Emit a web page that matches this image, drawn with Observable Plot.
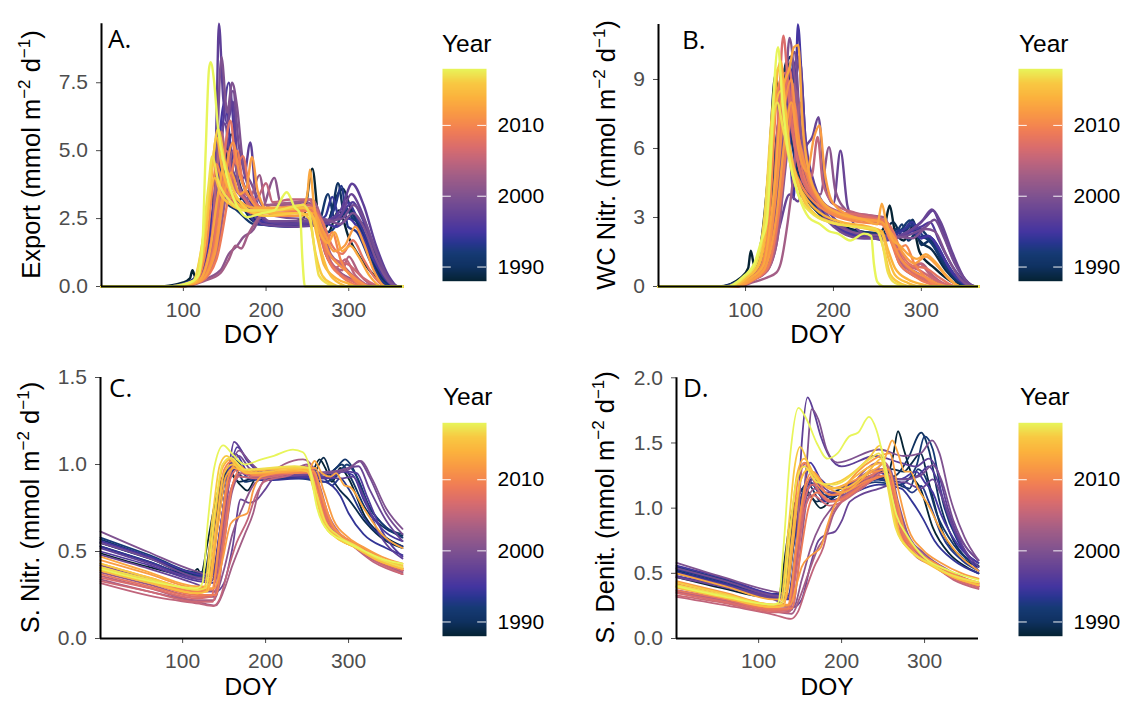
<!DOCTYPE html>
<html><head><meta charset="utf-8">
<script src="https://cdn.jsdelivr.net/npm/d3@7"></script>
<script src="https://cdn.jsdelivr.net/npm/@observablehq/plot@0.6"></script>
<style>
html,body{margin:0;padding:0;background:#fff;}
#root{position:relative;width:1125px;height:701px;overflow:hidden;background:#fff;}
</style></head><body><div id="root"></div>
<script>
const years = [1988,1989,1990,1991,1992,1993,1994,1995,1996,1997,1998,1999,2000,2001,2002,2003,2004,2005,2006,2007,2008,2009,2010,2011,2012,2013,2014,2015,2016,2017,2018];
const yearTicks = [1990, 2000, 2010];
const doyTicks = [100, 200, 300];
const exportTicks = [0, 2.5, 5, 7.5];
const wcNitrTicks = [0, 3, 6, 9];
const sNitrTicks = [0, 0.5, 1, 1.5];
const sDenitTicks = [0, 0.5, 1, 1.5, 2];
const panelLabels = ["A.", "B.", "C.", "D."];
const yTitles = ["Export", "WC Nitr.", "S. Nitr.", "S. Denit."];
const thermalStops = [0, 0.067, 0.133, 0.183, 0.233, 0.3, 0.4, 0.5, 0.567, 0.633, 0.7, 0.733, 0.8, 0.867, 0.933, 1];
const thermalColors = ["#052334","#0f3160","#163a75","#2a3591","#4435a0","#5e3f97","#7f5290","#a35e86","#c0657c","#db6d6c","#ee7b58","#f4864f","#f99c43","#fbb33d","#f8c942","#e8f55a"];

// knots per year: [doy, value, doy, value, ...]
const exportSeries = [
[1,0,70,0,100,0.15,108,0.3,111,0.6,115,0.3,124,1.5,133,3.5,140,2.6,152,3.9,162,3.0,178,3.5,190,2.5,215,2.3,245,2.5,256,4.34,264,2.4,275,2.0,288,2.8,300,1.8,320,0.8,340,0.15,352,0,365,0],
[1,0,75,0,105,0.15,125,0.5,140,2.5,150,4.4,158,5.6,166,4.0,175,3.2,190,2.4,220,2.25,250,2.3,262,2.7,272,2.2,285,3.3,293,3.6,302,2.9,315,2.2,330,1.0,345,0.2,358,0,365,0],
[1,0,80,0,110,0.2,130,1.0,142,3.2,150,4.5,158,3.4,170,3.0,185,2.4,220,2.3,255,2.4,268,2.1,280,2.8,287,3.8,295,2.6,310,2.4,325,1.2,340,0.3,352,0,365,0],
[1,0,80,0,108,0.2,125,0.9,137,3.0,145,3.8,152,3.1,165,2.8,185,2.3,220,2.25,250,2.4,262,2.2,275,3.4,283,2.5,300,2.8,315,2.0,330,0.9,345,0.2,356,0,365,0],
[1,0,85,0,112,0.2,135,1.0,150,3.5,160,4.8,168,3.6,180,2.9,195,2.3,230,2.2,260,2.3,275,2.0,288,2.4,296,2.9,305,2.5,318,2.3,332,1.2,346,0.3,358,0,365,0],
[1,0,80,0,110,0.2,128,1.2,142,3.8,155,5.2,162,3.8,175,3.1,192,2.4,230,2.3,262,2.5,275,2.4,284,3.0,291,3.7,299,2.2,310,2.0,325,1.0,340,0.2,352,0,365,0],
[1,0,85,0,112,0.2,132,1.0,145,3.2,152,4.0,160,3.3,172,3.0,190,2.3,230,2.2,262,2.4,272,2.6,280,3.3,289,2.5,298,3.1,312,2.4,328,1.3,345,0.3,358,0,365,0],
[1,0,80,0,110,0.2,125,0.8,138,3.5,150,6.8,158,5.0,168,4.2,180,3.2,195,2.4,230,2.3,265,2.4,285,2.2,300,2.5,312,2.1,328,1.1,345,0.25,356,0,365,0],
[1,0,85,0,112,0.2,130,1.0,142,4.0,155,7.5,163,5.2,172,3.8,185,3.0,200,2.4,235,2.3,268,2.4,288,2.6,305,3.1,315,2.6,330,1.5,346,0.4,360,0,365,0],
[1,0,80,0,112,0.2,128,0.4,136,1.5,140,6.0,143,9.67,148,7.0,153,6.0,160,6.8,166,4.4,173,4.0,181,5.3,188,3.2,200,2.4,230,2.3,270,2.4,290,2.8,304,3.78,318,3.0,332,1.6,348,0.4,360,0,365,0],
[1,0,85,0,115,0.2,132,1.2,143,4.5,150,6.0,157,4.6,166,3.8,180,3.0,195,2.3,235,2.2,270,2.3,290,2.6,303,3.4,315,2.8,330,1.5,347,0.3,358,0,365,0],
[1,0,85,0,115,0.2,135,1.2,150,4.8,160,7.2,167,5.2,175,4.0,188,3.0,205,2.4,240,2.4,270,2.4,292,2.5,306,3.0,318,2.5,333,1.3,348,0.3,360,0,365,0],
[1,0,85,0,115,0.2,132,1.0,140,4.5,146,8.45,153,6.4,159,7.5,165,6.6,172,4.6,182,3.8,195,3.0,210,2.6,240,2.5,268,2.5,290,2.3,305,2.7,318,2.2,333,1.0,348,0.2,360,0,365,0],
[1,0,90,0,120,0.2,145,0.6,155,1.2,165,1.5,172,1.8,185,2.1,198,3.0,210,4.0,218,3.0,235,2.8,255,2.8,265,2.0,275,1.0,290,0.5,310,0.2,330,0,365,0],
[1,0,90,0,118,0.2,140,1.2,152,3.5,160,5.0,168,3.6,180,3.2,192,4.1,200,3.0,220,3.0,250,3.1,262,2.6,272,1.2,290,0.5,305,0.2,322,0,365,0],
[1,0,95,0,125,0.2,145,0.5,155,1.0,163,1.5,170,1.4,178,1.9,188,2.4,205,3.0,235,3.1,255,3.2,268,2.4,278,1.2,292,0.8,305,0.4,330,0,365,0],
[1,0,90,0,118,0.2,132,1.2,140,4.0,146,5.7,153,4.2,162,3.6,175,3.2,190,2.8,220,2.9,255,3.0,266,2.2,278,0.9,292,0.6,300,1.1,312,0.5,335,0,365,0],
[1,0,90,0,120,0.2,138,1.0,148,3.5,155,4.5,162,3.6,175,3.4,188,3.2,200,3.8,208,3.1,230,3.2,252,3.2,262,2.6,272,1.4,285,0.7,296,1.0,308,0.4,330,0,365,0],
[1,0,90,0,118,0.2,135,1.3,145,3.8,152,5.0,160,3.8,172,3.3,185,2.8,215,2.9,250,3.0,262,2.8,270,1.6,282,1.0,300,0.8,318,0.3,340,0,365,0],
[1,0,90,0,118,0.2,132,1.4,142,3.3,148,4.0,156,3.2,168,3.0,185,2.7,220,2.7,252,2.8,262,2.2,272,1.2,288,0.5,305,0.2,330,0,365,0],
[1,0,90,0,118,0.2,135,1.2,148,4.5,157,6.1,164,4.5,172,4.8,180,3.6,195,2.9,225,2.8,255,2.8,268,2.4,280,1.5,292,1.2,305,1.7,318,1.0,332,0.3,345,0,365,0],
[1,0,95,0,122,0.2,140,1.0,155,3.4,165,5.0,172,3.8,182,3.2,196,2.8,225,2.7,255,2.8,265,2.2,275,1.0,290,0.4,305,0.1,320,0,365,0],
[1,0,90,0,115,0.2,128,1.5,136,3.8,140,4.5,148,3.7,160,3.2,175,2.8,200,2.6,240,2.6,258,2.7,265,2.0,272,1.6,280,2.0,290,1.0,305,0.3,320,0,365,0],
[1,0,92,0,120,0.2,138,1.4,150,4.0,160,5.3,168,4.1,178,3.4,190,2.9,225,2.8,255,2.9,265,2.3,275,1.3,288,0.8,300,0.5,312,0.2,325,0,365,0],
[1,0,92,0,120,0.2,138,1.2,150,3.5,158,4.2,168,3.4,176,3.6,183,4.76,190,3.5,205,2.7,235,2.6,258,2.7,270,2.0,282,1.3,295,1.5,308,2.2,318,1.6,330,0.6,345,0,365,0],
[1,0,90,0,118,0.2,132,1.3,143,3.6,150,4.5,158,3.5,170,3.1,185,2.9,220,2.9,245,3.0,250,3.4,253,4.3,258,3.0,265,2.0,275,1.6,283,2.0,292,1.3,302,1.5,312,1.1,325,0.4,340,0,365,0],
[1,0,88,0,115,0.2,126,1.6,134,4.0,140,5.5,147,4.3,158,3.4,172,2.9,200,2.7,240,2.7,255,2.6,262,1.8,270,0.8,285,0.3,300,0.1,310,0,365,0],
[1,0,88,0,115,0.2,125,1.5,132,3.4,138,4.0,145,3.4,158,3.0,175,2.8,210,2.8,245,2.9,258,2.5,266,1.4,276,0.5,290,0.1,300,0,365,0],
[1,0,85,0,112,0.2,124,1.8,135,4.5,142,5.8,150,4.6,160,3.6,175,2.9,200,2.6,240,2.7,252,2.5,260,1.2,268,0.4,280,0.1,290,0,365,0],
[1,0,85,0,112,0.2,122,1.4,130,3.6,135,4.8,142,3.9,155,3.2,175,2.8,210,2.8,245,3.0,253,2.6,258,1.5,264,0.4,275,0.1,290,0,365,0],
[1,0,80,0,108,0.15,118,0.4,123,1.5,127,5.0,131,8.0,133,8.26,137,7.6,142,5.8,150,4.4,160,3.3,168,2.8,177,2.55,195,2.7,210,2.8,225,3.47,235,2.9,241,2.7,244,1.0,247,0,365,0]
];

const wcNitrSeries = [
[1,0,70,0,95,0.4,103,0.8,106,1.56,110,0.9,118,2.0,126,5.0,134,9.2,140,7.0,148,8.8,155,6.5,165,4.2,180,3.3,200,2.8,230,2.4,250,2.3,258,2.6,264,3.52,270,2.4,280,2.0,290,2.6,298,1.5,315,0.8,335,0.2,350,0,365,0],
[1,0,72,0,98,0.4,110,0.8,120,1.8,130,4.5,140,8.0,147,9.8,153,8.0,160,5.0,172,3.8,190,3.0,220,2.4,255,2.3,268,2.8,278,2.2,288,2.8,298,2.0,312,1.6,328,0.7,345,0.1,358,0,365,0],
[1,0,72,0,98,0.4,112,0.9,122,2.0,135,6.0,145,9.5,152,10.0,158,7.0,165,4.5,178,3.5,200,2.7,230,2.3,260,2.2,272,2.5,282,2.4,290,2.9,300,1.8,310,2.0,325,1.0,342,0.2,355,0,365,0],
[1,0,75,0,100,0.4,112,0.8,125,2.2,137,7.0,146,8.6,152,6.5,160,4.8,175,3.6,195,2.8,225,2.4,255,2.3,268,2.1,278,2.7,285,2.0,298,2.5,310,2.0,325,1.0,342,0.2,355,0,365,0],
[1,0,75,0,100,0.4,115,0.8,128,2.2,140,6.5,150,8.8,158,7.5,165,5.0,178,3.6,198,2.8,230,2.3,260,2.3,275,2.4,287,2.87,295,2.2,305,2.1,315,1.7,330,0.8,346,0.15,358,0,365,0],
[1,0,75,0,100,0.35,115,0.8,130,2.5,142,7.5,150,9.5,157,8.0,164,5.2,178,3.7,200,2.7,230,2.2,260,2.2,272,2.4,282,2.5,292,2.7,302,2.2,312,2.1,326,1.2,342,0.3,356,0,365,0],
[1,0,75,0,100,0.4,115,0.8,128,2.3,140,7.0,148,8.0,155,9.6,162,6.0,170,4.2,185,3.4,205,2.6,235,2.2,262,2.2,278,2.4,290,2.8,300,2.1,308,2.2,320,1.6,335,0.6,350,0.1,360,0,365,0],
[1,0,78,0,102,0.4,118,0.9,132,3.0,142,7.0,148,7.5,152,5.0,155,3.8,157,7.5,159.5,11.39,164,9.0,170,5.5,180,4.0,195,3.0,220,2.3,250,2.1,265,2.2,278,2.2,290,2.4,300,2.1,308,2.2,318,1.8,332,0.8,348,0.15,360,0,365,0],
[1,0,78,0,102,0.4,118,0.8,132,2.5,142,6.0,152,9.0,160,10.0,166,7.0,172,4.8,185,3.6,205,2.5,235,2.1,265,2.1,285,2.4,300,2.6,310,2.8,320,2.0,335,0.9,350,0.2,362,0,365,0],
[1,0,80,0,105,0.35,120,0.8,135,2.5,145,6.5,155,8.5,162,9.8,168,6.5,178,4.5,190,3.5,205,2.8,235,2.2,268,2.1,290,2.5,305,3.0,313,3.3,322,2.6,335,1.3,350,0.3,362,0,365,0],
[1,0,80,0,105,0.35,122,0.8,138,2.5,150,4.0,160,3.7,168,6.0,176,6.5,183,7.36,190,4.5,200,3.6,208,5.9,216,3.5,230,2.4,260,2.0,285,2.4,300,2.8,312,3.35,322,2.8,335,1.5,350,0.3,362,0,365,0],
[1,0,80,0,105,0.35,120,0.8,133,2.5,143,7.0,150,9.5,156,10.2,162,7.0,170,4.6,182,3.5,200,2.6,230,2.1,265,2.1,290,2.3,305,2.6,315,2.9,325,2.2,338,1.0,352,0.2,362,0,365,0],
[1,0,82,0,105,0.3,120,0.7,135,2.8,145,8.0,150,10.8,156,9.0,163,6.0,172,4.5,185,3.6,200,2.8,230,2.3,265,2.2,290,2.1,305,2.5,315,2.4,328,1.4,345,0.3,360,0,365,0],
[1,0,85,0,108,0.3,122,0.6,135,1.8,145,5.0,152,7.5,158,8.5,164,6.5,172,5.0,185,4.0,195,6.06,202,4.2,215,3.3,240,2.8,258,2.7,268,2.0,280,1.0,295,0.6,310,0.3,330,0,365,0],
[1,0,85,0,108,0.3,125,0.7,138,2.5,148,7.0,155,8.8,162,6.2,172,4.6,185,3.8,205,3.2,235,3.0,255,2.9,265,2.2,275,1.0,290,0.5,310,0.2,330,0,365,0],
[1,0,90,0,110,0.2,125,0.4,135,0.6,140,1.0,148,2.8,155,5.0,162,8.0,168,6.0,175,4.5,188,3.6,210,3.2,240,3.1,258,3.0,268,2.0,278,1.0,292,0.6,305,0.3,330,0,365,0],
[1,0,85,0,108,0.3,122,0.8,132,3.0,140,7.0,147,9.0,154,7.5,162,5.0,172,4.2,185,3.7,210,3.2,240,3.0,258,2.9,268,2.2,278,1.2,290,0.8,300,1.0,312,0.5,335,0,365,0],
[1,0,88,0,110,0.3,125,0.7,135,2.2,145,6.5,152,8.2,160,6.5,168,5.5,175,4.8,182,6.5,188,4.5,200,3.6,225,3.2,250,3.0,262,2.6,272,1.5,285,0.8,298,1.0,310,0.5,335,0,365,0],
[1,0,85,0,108,0.3,120,0.8,130,2.8,138,7.5,145,9.3,152,7.0,160,5.3,170,4.3,185,3.6,210,3.1,245,3.0,260,2.8,270,1.8,282,1.0,298,0.7,315,0.3,340,0,365,0],
[1,0,85,0,108,0.3,122,0.8,132,3.5,138,8.0,143,10.9,148,9.0,155,6.5,165,4.6,180,3.8,200,3.3,230,3.1,255,2.8,265,2.2,275,1.3,290,0.6,305,0.3,330,0,365,0],
[1,0,85,0,108,0.3,122,0.9,132,3.5,142,7.5,150,9.5,156,7.0,165,5.0,178,3.9,195,3.3,225,3.0,255,2.9,268,2.4,278,1.4,290,0.9,305,0.8,320,0.4,340,0,365,0],
[1,0,88,0,110,0.3,125,0.8,138,3.2,148,6.5,155,8.0,162,6.0,172,4.5,185,3.7,200,3.2,230,2.9,255,2.8,265,2.0,275,1.0,290,0.5,310,0.1,325,0,365,0],
[1,0,85,0,105,0.35,118,0.9,128,3.5,135,8.0,140,9.0,146,7.0,155,5.2,165,4.3,180,3.6,200,3.1,230,2.8,255,2.7,265,2.0,272,1.6,282,1.8,292,1.0,305,0.4,320,0,365,0],
[1,0,85,0,108,0.3,122,0.8,134,3.8,145,8.0,152,9.0,158,7.0,168,5.2,180,4.0,200,3.2,230,2.9,255,2.8,265,2.1,275,1.3,290,0.7,305,0.4,320,0.1,335,0,365,0],
[1,0,85,0,108,0.3,122,0.8,135,3.0,145,6.5,152,8.0,160,6.0,170,5.0,178,6.5,184,7.0,190,5.0,200,3.6,225,3.0,255,2.8,268,2.2,280,1.4,292,1.0,305,1.3,318,0.9,332,0.3,345,0,365,0],
[1,0,85,0,105,0.35,120,0.9,132,4.0,142,8.5,150,9.5,155,10.4,160,10.5,165,7.0,172,5.0,185,3.8,205,3.2,235,2.9,250,2.7,255,3.6,260,2.8,268,2.0,275,1.8,285,1.4,295,1.2,305,1.4,315,1.1,328,0.5,345,0,365,0],
[1,0,82,0,102,0.4,115,0.9,125,3.0,133,8.0,140,9.8,147,7.0,155,5.0,168,3.9,185,3.2,210,2.8,240,2.6,255,2.4,262,1.6,270,0.8,285,0.3,300,0.1,315,0,365,0],
[1,0,82,0,102,0.4,115,1.0,125,3.5,133,7.5,140,8.5,147,6.5,155,5.0,168,3.6,185,3.0,210,2.7,240,2.5,255,2.3,262,1.3,270,0.5,285,0.15,300,0,365,0],
[1,0,80,0,100,0.45,112,1.0,122,3.2,130,7.5,137,9.5,142,8.8,150,6.0,160,4.5,175,3.3,195,2.8,225,2.6,250,2.4,258,1.5,265,0.5,278,0.1,290,0,365,0],
[1,0,80,0,100,0.45,112,1.0,122,3.0,130,7.0,136,8.0,142,7.0,150,5.5,160,4.0,175,3.2,195,2.8,225,2.6,248,2.5,256,1.8,262,0.6,270,0.15,285,0,365,0],
[1,0,78,0,98,0.45,110,1.0,118,2.0,124,2.8,128,5.0,133,9.0,137,10.4,142,8.0,150,5.5,160,4.0,172,3.0,185,2.7,195,2.4,205,2.3,219,2.0,235,2.3,243,2.2,246,1.0,250,0.2,258,0,365,0]
];

const sNitrSeries = [
[1,0.49,60,0.41,110,0.36,118,0.40,122,0.37,130,0.55,140,0.80,155,0.95,170,0.88,178,0.85,190,0.93,230,0.93,255,0.95,265,1.03,272,0.98,280,0.90,290,0.98,300,0.92,320,0.70,345,0.58,365,0.53],
[1,0.53,60,0.44,115,0.36,125,0.36,135,0.60,145,0.88,155,0.97,168,0.90,185,0.92,230,0.93,258,0.95,270,1.04,280,0.92,290,0.85,300,0.80,320,0.67,345,0.56,365,0.52],
[1,0.55,60,0.46,118,0.37,128,0.38,138,0.65,148,0.92,160,1.0,172,0.93,190,0.92,235,0.94,265,0.94,280,0.96,292,1.0,302,0.93,320,0.75,345,0.63,365,0.59],
[1,0.57,60,0.47,118,0.37,130,0.40,140,0.70,150,0.93,162,0.98,175,0.90,195,0.92,240,0.93,268,0.92,285,0.98,296,1.03,305,0.98,322,0.78,345,0.64,365,0.60],
[1,0.58,60,0.48,118,0.38,133,0.40,143,0.68,153,0.95,165,1.02,178,0.94,200,0.92,240,0.92,270,0.90,285,0.93,298,1.0,310,0.93,325,0.76,345,0.64,365,0.58],
[1,0.55,60,0.46,118,0.36,132,0.37,142,0.65,152,0.93,162,1.0,175,0.95,195,0.92,240,0.93,268,0.93,280,0.88,290,0.92,300,0.86,318,0.70,345,0.57,365,0.53],
[1,0.53,60,0.44,118,0.35,135,0.36,145,0.62,155,0.92,166,0.98,180,0.92,200,0.91,245,0.92,272,0.90,290,0.82,300,0.72,318,0.60,345,0.52,365,0.48],
[1,0.56,60,0.47,118,0.37,136,0.36,146,0.65,155,0.95,164,1.06,178,0.96,200,0.93,245,0.93,270,0.92,290,0.96,305,0.94,318,0.80,335,0.66,365,0.56],
[1,0.50,60,0.42,118,0.33,138,0.32,148,0.62,158,0.98,166,1.10,178,1.02,195,0.95,245,0.93,275,0.92,295,0.96,310,0.95,322,0.82,340,0.62,365,0.47],
[1,0.52,60,0.43,118,0.34,135,0.33,145,0.62,155,0.95,162,1.13,175,1.05,190,0.97,240,0.95,270,0.93,290,0.92,305,0.93,318,0.82,335,0.62,365,0.46],
[1,0.48,60,0.40,118,0.31,140,0.27,150,0.32,160,0.52,170,0.80,180,0.78,190,0.80,200,0.86,210,0.92,245,0.94,275,0.95,300,0.98,312,0.99,325,0.86,345,0.68,365,0.56],
[1,0.55,60,0.46,118,0.35,138,0.34,148,0.62,158,0.95,168,1.05,180,0.98,200,0.94,245,0.94,280,0.95,300,0.97,313,1.02,325,0.93,345,0.72,365,0.60],
[1,0.615,57,0.50,117,0.385,138,0.36,148,0.60,158,0.95,168,1.08,180,1.02,200,0.95,245,0.95,280,0.96,300,0.98,315,1.02,328,0.92,345,0.75,365,0.63],
[1,0.42,60,0.34,118,0.27,140,0.27,150,0.40,160,0.60,172,0.75,185,0.88,200,0.93,245,0.97,258,0.93,268,0.78,280,0.65,300,0.56,330,0.46,365,0.39],
[1,0.38,60,0.31,118,0.24,140,0.24,150,0.55,160,0.85,172,0.95,190,0.93,230,0.96,250,1.0,260,0.92,272,0.72,285,0.62,300,0.56,330,0.46,365,0.39],
[1,0.34,60,0.27,118,0.21,140,0.19,150,0.28,160,0.42,175,0.60,185,0.72,192,0.85,200,0.92,245,1.03,258,0.98,268,0.75,285,0.60,300,0.55,330,0.45,365,0.38],
[1,0.36,60,0.29,118,0.22,138,0.22,148,0.50,158,0.85,170,0.95,190,0.93,235,0.96,255,0.98,265,0.88,275,0.72,290,0.60,310,0.53,335,0.45,365,0.39],
[1,0.318,73,0.233,120,0.20,137,0.186,145,0.23,155,0.40,165,0.55,178,0.68,188,0.82,198,0.90,230,0.94,252,0.99,262,0.92,272,0.68,285,0.60,300,0.55,330,0.44,365,0.37],
[1,0.33,60,0.27,118,0.21,136,0.21,146,0.48,156,0.82,168,0.93,190,0.92,235,0.95,255,0.96,265,0.85,275,0.66,290,0.57,310,0.52,335,0.44,365,0.37],
[1,0.35,60,0.29,118,0.23,135,0.24,145,0.55,155,0.88,166,0.97,185,0.93,235,0.95,255,0.95,265,0.82,275,0.65,290,0.58,310,0.53,335,0.45,365,0.39],
[1,0.37,60,0.30,118,0.24,135,0.25,145,0.58,155,0.92,165,1.0,185,0.94,235,0.96,255,0.97,265,0.86,275,0.68,290,0.60,310,0.54,335,0.46,365,0.40],
[1,0.39,60,0.32,118,0.25,140,0.25,150,0.55,160,0.88,170,0.97,190,0.94,240,0.96,258,0.95,268,0.80,280,0.65,295,0.58,315,0.52,340,0.45,365,0.40],
[1,0.40,60,0.33,118,0.27,130,0.28,140,0.62,150,0.97,160,1.02,175,0.95,235,0.95,252,0.96,262,0.85,272,0.68,290,0.58,310,0.52,335,0.45,365,0.40],
[1,0.43,60,0.35,118,0.28,135,0.28,145,0.60,155,0.93,165,1.0,185,0.94,240,0.97,258,0.96,268,0.82,280,0.66,295,0.58,315,0.53,340,0.46,365,0.41],
[1,0.45,60,0.37,118,0.29,138,0.29,148,0.45,158,0.66,168,0.70,178,0.72,185,0.85,195,0.93,240,0.97,260,0.98,270,0.85,282,0.68,300,0.58,320,0.52,345,0.46,365,0.43],
[1,0.47,60,0.38,118,0.30,132,0.30,142,0.62,152,0.93,162,0.98,180,0.95,235,0.96,252,0.97,259,1.02,268,0.95,278,0.93,285,0.95,295,0.88,302,0.87,318,0.75,340,0.60,365,0.52],
[1,0.41,60,0.33,118,0.26,128,0.27,138,0.65,148,0.98,158,1.03,175,0.96,235,0.98,252,0.97,262,0.82,272,0.66,288,0.58,310,0.52,335,0.45,365,0.40],
[1,0.39,60,0.32,118,0.26,130,0.27,140,0.62,150,0.95,160,1.0,178,0.95,235,0.97,250,0.96,260,0.82,270,0.66,285,0.58,305,0.53,335,0.45,365,0.40],
[1,0.43,60,0.35,118,0.28,126,0.29,136,0.70,145,1.0,153,1.05,170,0.97,230,0.98,250,0.98,260,0.83,270,0.66,285,0.58,305,0.53,335,0.46,365,0.42],
[1,0.41,60,0.34,118,0.28,128,0.29,138,0.70,148,1.0,158,1.04,175,0.97,235,0.99,252,0.98,262,0.82,272,0.67,288,0.59,310,0.53,335,0.46,365,0.41],
[1,0.40,60,0.33,118,0.29,124,0.32,130,0.65,138,0.98,149,1.11,160,1.06,175,1.0,195,1.03,210,1.05,233,1.085,245,1.07,252,1.0,262,0.75,275,0.62,295,0.56,320,0.50,345,0.45,365,0.43]
];

const sDenitSeries = [
[1,0.47,60,0.38,110,0.32,118,0.34,124,0.32,130,0.55,138,0.90,145,1.05,160,1.10,175,1.0,190,1.08,230,1.22,255,1.25,262,1.40,268,1.59,275,1.45,285,1.25,295,1.15,310,0.85,330,0.65,350,0.55,365,0.50],
[1,0.50,60,0.41,115,0.32,125,0.32,135,0.70,145,1.05,155,1.15,170,1.05,190,1.12,235,1.25,260,1.30,275,1.28,285,1.35,295,1.42,305,1.20,320,0.85,345,0.62,365,0.55],
[1,0.52,60,0.42,118,0.33,128,0.34,138,0.75,148,1.10,160,1.18,175,1.05,195,1.10,240,1.22,265,1.25,280,1.38,296,1.58,305,1.45,318,1.05,335,0.75,350,0.62,365,0.56],
[1,0.54,60,0.44,118,0.34,130,0.35,140,0.78,150,1.12,162,1.20,178,1.08,200,1.12,240,1.22,268,1.18,282,1.15,292,1.30,300,1.25,315,0.95,335,0.72,365,0.55],
[1,0.55,60,0.45,118,0.34,133,0.35,143,0.75,153,1.12,165,1.22,180,1.10,200,1.10,240,1.20,270,1.18,290,1.32,300,1.55,310,1.45,322,1.05,340,0.75,365,0.58],
[1,0.53,60,0.43,118,0.33,132,0.33,142,0.72,152,1.10,162,1.20,178,1.08,200,1.12,245,1.22,270,1.20,285,1.12,296,1.17,305,1.05,320,0.80,345,0.60,365,0.52],
[1,0.51,60,0.42,118,0.32,135,0.32,145,0.70,155,1.08,166,1.18,180,1.05,200,1.08,245,1.18,272,1.15,285,1.05,298,0.92,312,0.75,335,0.60,365,0.50],
[1,0.56,60,0.46,118,0.34,136,0.33,146,0.72,155,1.15,162,1.35,175,1.22,195,1.15,240,1.28,270,1.22,290,1.28,300,1.20,310,1.12,320,0.95,340,0.72,365,0.58],
[1,0.48,60,0.40,118,0.31,138,0.30,148,0.72,156,1.10,165,1.25,180,1.12,200,1.12,245,1.25,272,1.22,292,1.25,305,1.32,315,1.22,328,0.95,345,0.70,365,0.52],
[1,0.50,60,0.41,118,0.32,138,0.31,146,0.80,152,1.50,159,1.85,166,1.75,175,1.55,185,1.40,200,1.32,240,1.40,270,1.35,290,1.32,305,1.38,315,1.30,328,1.00,345,0.72,365,0.55],
[1,0.47,60,0.39,118,0.30,142,0.24,152,0.30,162,0.55,172,0.75,182,0.80,192,0.82,200,0.90,210,1.05,245,1.15,275,1.20,295,1.15,310,1.22,320,1.10,335,0.85,350,0.70,365,0.60],
[1,0.54,60,0.44,118,0.33,138,0.32,148,0.72,158,1.10,168,1.25,180,1.15,200,1.10,245,1.25,275,1.22,295,1.25,310,1.33,320,1.22,335,0.90,350,0.70,365,0.60],
[1,0.58,57,0.47,118,0.36,138,0.34,150,0.80,158,1.35,164,1.76,172,1.68,182,1.45,195,1.35,245,1.45,275,1.40,295,1.42,309,1.52,318,1.42,330,1.10,348,0.78,365,0.60],
[1,0.40,60,0.32,118,0.25,142,0.24,152,0.45,163,0.70,175,0.88,188,1.0,200,1.10,245,1.30,258,1.30,268,1.05,280,0.80,300,0.65,330,0.52,365,0.42],
[1,0.37,60,0.30,118,0.23,140,0.22,150,0.65,158,1.05,168,1.15,185,1.05,200,1.08,240,1.25,250,1.30,260,1.20,272,0.85,288,0.68,310,0.58,335,0.48,365,0.40],
[1,0.35,60,0.28,118,0.21,140,0.19,150,0.32,160,0.50,172,0.70,182,0.80,190,0.95,200,1.05,245,1.35,255,1.32,265,1.10,278,0.80,295,0.66,320,0.55,345,0.46,365,0.40],
[1,0.36,60,0.29,118,0.22,138,0.21,146,0.70,152,1.30,158,1.35,168,1.18,185,1.05,230,1.22,250,1.30,262,1.10,275,0.82,292,0.66,315,0.56,340,0.47,365,0.40],
[1,0.32,73,0.24,120,0.18,139,0.15,147,0.20,157,0.38,167,0.55,178,0.70,188,0.95,200,1.05,230,1.18,252,1.35,262,1.20,272,0.80,288,0.64,310,0.56,335,0.45,365,0.38],
[1,0.33,60,0.27,118,0.20,136,0.20,146,0.55,155,0.98,165,1.10,185,1.02,230,1.18,252,1.28,262,1.15,272,0.82,288,0.65,310,0.56,335,0.46,365,0.39],
[1,0.35,60,0.28,118,0.21,135,0.22,145,0.62,155,1.05,165,1.18,185,1.05,232,1.20,252,1.25,262,1.10,272,0.80,288,0.65,310,0.56,335,0.46,365,0.40],
[1,0.37,60,0.30,118,0.22,135,0.23,145,0.65,155,1.10,165,1.25,185,1.10,235,1.25,252,1.30,262,1.12,272,0.82,288,0.66,310,0.57,335,0.47,365,0.41],
[1,0.39,60,0.31,118,0.23,140,0.23,150,0.62,160,1.0,170,1.12,190,1.05,238,1.22,255,1.25,265,1.05,275,0.80,292,0.66,315,0.56,340,0.47,365,0.42],
[1,0.40,60,0.32,118,0.24,130,0.25,140,0.75,148,1.25,155,1.35,168,1.20,190,1.10,235,1.22,250,1.25,260,1.08,270,0.80,288,0.65,310,0.56,335,0.47,365,0.42],
[1,0.42,60,0.33,118,0.25,135,0.25,145,0.70,155,1.15,165,1.28,185,1.15,240,1.28,256,1.30,266,1.08,276,0.82,292,0.67,315,0.57,340,0.48,365,0.43],
[1,0.44,60,0.35,118,0.26,138,0.26,146,0.42,152,0.55,160,0.62,168,0.66,175,0.70,182,0.85,190,1.0,200,1.12,240,1.38,258,1.42,268,1.15,280,0.85,298,0.68,320,0.58,345,0.50,365,0.46],
[1,0.50,60,0.40,118,0.30,132,0.30,142,0.75,150,1.20,160,1.30,178,1.18,200,1.12,235,1.28,250,1.35,256,1.45,261,1.52,268,1.42,276,1.28,283,1.28,292,1.15,304,1.03,318,0.85,340,0.65,365,0.52],
[1,0.41,60,0.32,118,0.24,128,0.25,138,0.80,146,1.25,155,1.38,170,1.22,190,1.15,235,1.32,250,1.35,260,1.10,270,0.80,288,0.65,310,0.56,335,0.47,365,0.41],
[1,0.39,60,0.31,118,0.24,130,0.25,140,0.75,150,1.20,160,1.30,178,1.18,200,1.15,235,1.30,248,1.38,258,1.15,268,0.82,285,0.66,305,0.57,335,0.47,365,0.41],
[1,0.43,60,0.34,118,0.26,126,0.27,136,0.85,143,1.30,150,1.47,162,1.30,180,1.18,195,1.20,235,1.40,246,1.48,256,1.20,266,0.85,282,0.68,305,0.58,335,0.48,365,0.43],
[1,0.41,60,0.33,118,0.26,128,0.27,138,0.85,146,1.22,155,1.32,170,1.20,190,1.18,235,1.38,245,1.42,255,1.18,265,0.85,282,0.68,305,0.58,335,0.48,365,0.43],
[1,0.40,60,0.32,118,0.26,124,0.28,130,0.70,138,1.40,148,1.77,158,1.68,170,1.50,183,1.38,195,1.42,209,1.55,220,1.58,233,1.70,242,1.60,250,1.40,257,1.19,266,0.95,279,0.79,300,0.62,330,0.52,365,0.45]
];

const FONT = "'Liberation Sans', Arial, Helvetica, sans-serif";
const root = document.getElementById("root");
const thermal = d3.scaleLinear().domain(thermalStops).range(thermalColors).interpolate(d3.interpolateRgb).clamp(true);
const colorScale = () => ({type: "linear", domain: [1988, 2018], range: [0, 1], interpolate: (a, b) => (t) => thermal(a + (b - a) * t)});

function toRows(series) {
  const rows = [];
  series.forEach((k, i) => { for (let j = 0; j < k.length; j += 2) rows.push({year: years[i], doy: k[j], v: k[j + 1]}); });
  return rows;
}

function place(el, left, top) {
  el.style.position = "absolute"; el.style.left = left + "px"; el.style.top = top + "px";
  root.appendChild(el);
}

function panel(p) {
  const chart = Plot.plot({
    width: p.w, height: p.h,
    marginLeft: p.ml, marginRight: p.mr, marginTop: p.mt, marginBottom: p.mb,
    style: {fontFamily: FONT, fontSize: "21px", color: "#4d4d4d", background: "transparent", overflow: "visible"},
    x: {domain: [1, 365], ticks: doyTicks, tickSize: 5, tickPadding: p.xpad, label: null},
    y: {domain: [0, p.yMax], ticks: p.ticks, tickFormat: p.fmt, tickSize: 5, tickPadding: 8.5, label: null},
    color: colorScale(),
    marks: [
      Plot.line(toRows(p.series), {x: "doy", y: "v", z: "year", stroke: "year", strokeWidth: p.sw, curve: "monotone-x"}),
      Plot.ruleX([1], {stroke: "#000", strokeWidth: 2}),
      Plot.ruleY([0], {stroke: "#000", strokeWidth: 2})
    ]
  });
  place(chart, p.left, p.top);
}

function legend(l) {
  const marks = [];
  if (Plot.raster) {
    marks.push(Plot.raster({x1: 0, x2: 1, y1: 1988, y2: 2018, width: 1, height: 300, fill: (x, y) => y, imageRendering: "auto"}));
  } else {
    marks.push(Plot.rect(years, {x1: 0, x2: 1, y1: (d) => d - 0.5, y2: (d) => d + 0.5, fill: (d) => d, clip: true}));
  }
  marks.push(Plot.ruleY(yearTicks, {x1: 0, x2: 0.2, stroke: "#fff", strokeOpacity: 0.85, strokeWidth: 1.1}));
  marks.push(Plot.ruleY(yearTicks, {x1: 0.8, x2: 1, stroke: "#fff", strokeOpacity: 0.85, strokeWidth: 1.1}));
  const chart = Plot.plot({
    width: 120, height: l.h,
    marginLeft: 12, marginRight: 64, marginTop: l.mt, marginBottom: l.mb,
    style: {fontFamily: FONT, fontSize: "21px", color: "#000", background: "transparent", overflow: "visible"},
    x: {domain: [0, 1], axis: null},
    y: {domain: [1988, 2018], axis: "right", ticks: yearTicks, tickSize: 0, tickPadding: 11, tickFormat: (d) => String(d), label: null},
    color: colorScale(),
    marks
  });
  place(chart, l.left, l.top);
}

panel({series: exportSeries, yMax: 9.67, ticks: exportTicks, fmt: d3.format(".1f"), left: 0, top: 0, w: 562, h: 355, ml: 101, mr: 160, mt: 23.3, mb: 69, sw: 2.4, xpad: 10.5});
panel({series: wcNitrSeries, yMax: 11.39, ticks: wcNitrTicks, fmt: d3.format("d"), left: 562, top: 0, w: 563, h: 355, ml: 96, mr: 147, mt: 24, mb: 69, sw: 2.4, xpad: 10.5});
panel({series: sNitrSeries, yMax: 1.5, ticks: sNitrTicks, fmt: d3.format(".1f"), left: 0, top: 352, w: 562, h: 349, ml: 100, mr: 160, mt: 25, mb: 63, sw: 1.8, xpad: 9.5});
panel({series: sDenitSeries, yMax: 2, ticks: sDenitTicks, fmt: d3.format(".1f"), left: 562, top: 352, w: 563, h: 349, ml: 114, mr: 147, mt: 25.3, mb: 63, sw: 1.8, xpad: 9.5});

legend({left: 430, top: 0, h: 355, mt: 68.3, mb: 74.3});
legend({left: 1006, top: 0, h: 355, mt: 68.3, mb: 74.3});
legend({left: 430, top: 355, h: 346, mt: 67.3, mb: 65.3});
legend({left: 1006, top: 355, h: 346, mt: 67.3, mb: 65.3});

// text overlay: axis titles, panel labels, legend titles
const ov = d3.select(root).append("svg").attr("width", 1125).attr("height", 701)
  .style("position", "absolute").style("left", "0px").style("top", "0px").style("overflow", "visible");

function txt(x, y, s, size, family, anchor) {
  ov.append("text").attr("x", x).attr("y", y).attr("text-anchor", anchor || "start")
    .attr("font-family", family || FONT).attr("font-size", size).attr("fill", "#000").text(s);
}
function yTitle(x, y, main) {
  const t = ov.append("text").attr("transform", `translate(${x},${y}) rotate(-90)`)
    .attr("text-anchor", "middle").attr("font-family", FONT).attr("font-size", 25.5).attr("fill", "#000");
  t.append("tspan").text(main + " (mmol m");
  t.append("tspan").attr("font-size", 17).attr("dy", -10).text("\u22122");
  t.append("tspan").attr("dy", 10).text(" d");
  t.append("tspan").attr("font-size", 17).attr("dy", -10).text("\u22121");
  t.append("tspan").attr("dy", 10).text(")");
}

[[251.5, 343, 25.5], [818, 343, 25.5], [251, 695, 24.5], [827, 695, 24.5]].forEach(([x, y, s]) => txt(x, y, "DOY", s, FONT, "middle"));
yTitle(39.5, 154.5, yTitles[0]);
yTitle(615, 155, yTitles[1]);
yTitle(38.5, 507.5, yTitles[2]);
yTitle(614, 507.5, yTitles[3]);
[[108, 48], [682, 49], [109, 397], [683, 397]].forEach(([x, y], i) => txt(x, y, panelLabels[i], 26, "'Open Sans', 'Noto Sans', sans-serif"));
[[442, 52], [1019, 52], [443, 405], [1020, 405]].forEach(([x, y]) => txt(x, y, "Year", 24.5));
</script>
</body></html>
